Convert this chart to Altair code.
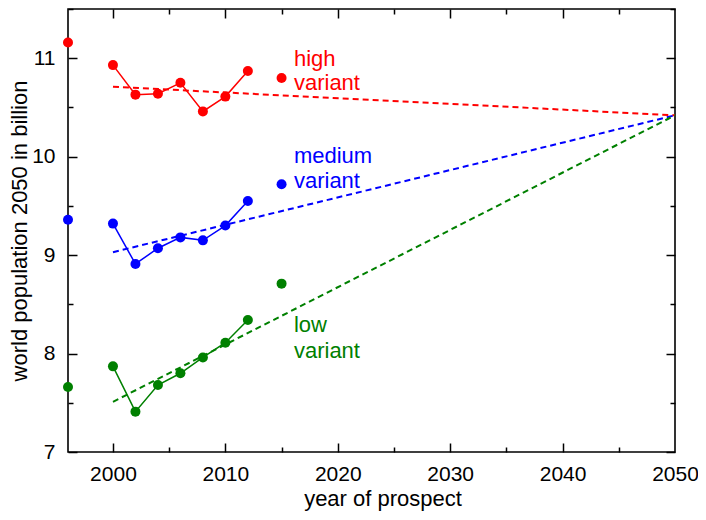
import altair as alt
import pandas as pd

# ---- data ----
years = [1996, 2000, 2002, 2004, 2006, 2008, 2010, 2012, 2015]
high = [11.16, 10.93, 10.63, 10.64, 10.75, 10.46, 10.61, 10.87, 10.80]
medium = [9.36, 9.32, 8.91, 9.07, 9.18, 9.15, 9.30, 9.55, 9.72]
low = [7.66, 7.87, 7.41, 7.68, 7.80, 7.96, 8.11, 8.34, 8.71]
connected_years = [2000, 2002, 2004, 2006, 2008, 2010, 2012]

trend_years = [2000, 2050]
trend_high = [10.71, 10.42]
trend_medium = [9.03, 10.42]
trend_low = [7.51, 10.42]

variants = ["high", "medium", "low"]
colors = ["#ff0000", "#0000ff", "#008000"]

label_lines = ["high", "variant", "medium", "variant", "low", "variant"]
label_variant = ["high", "high", "medium", "medium", "low", "low"]
label_year = [2016.1] * 6
label_value = [10.925, 10.674, 9.933, 9.68, 8.215, 7.95]

x_label_ticks = [2000, 2010, 2020, 2030, 2040, 2050]
x_major = [2000, 2010, 2020, 2030, 2040]
x_minor = [2005, 2015, 2025, 2035, 2045]
y_label_ticks = [7, 8, 9, 10, 11]
y_major = [7, 8, 9, 10, 11]
y_minor = [7.5, 8.5, 9.5, 10.5, 11.5]

# ---- tables ----
series = {"high": high, "medium": medium, "low": low}
trends = {"high": trend_high, "medium": trend_medium, "low": trend_low}
pts = pd.DataFrame(
    [{"year": y, "value": v, "variant": k} for k in variants for y, v in zip(years, series[k])]
)
conn = pts[pts["year"].isin(connected_years)]
trend = pd.DataFrame(
    [{"year": y, "value": v, "variant": k} for k in variants for y, v in zip(trend_years, trends[k])]
)
labels = pd.DataFrame(
    {"year": label_year, "value": label_value, "variant": label_variant, "line": label_lines}
)

FONT = "Liberation Sans"
W, H = 607, 443
xs = alt.Scale(domain=[1996, 2050], nice=False, zero=False)
ys = alt.Scale(domain=[7, 11.5], nice=False, zero=False)
cs = alt.Scale(domain=variants, range=colors)
color = alt.Color("variant:N", scale=cs, legend=None)

x_noaxis = alt.X("year:Q", scale=xs, axis=None)
y_noaxis = alt.Y("value:Q", scale=ys, axis=None)

trend_layer = alt.Chart(trend).mark_line(strokeDash=[6, 4], strokeWidth=2).encode(
    x=x_noaxis, y=y_noaxis, color=color, detail="variant:N"
)
line_layer = alt.Chart(conn).mark_line(strokeWidth=1.5).encode(
    x=x_noaxis, y=y_noaxis, color=color, detail="variant:N"
)
point_layer = alt.Chart(pts).mark_circle(size=100, opacity=1).encode(
    x=alt.X(
        "year:Q",
        scale=xs,
        axis=alt.Axis(
            orient="bottom", values=x_label_ticks, format="d", ticks=False, tickSize=0,
            labelPadding=11, labelFlush=False, labelFontSize=21, labelFont=FONT,
            labelColor="black", title="year of prospect", titleFontSize=22, titleFont=FONT,
            titleColor="black", titleFontWeight="normal", titlePadding=4, titleX=W / 2 + 11,
            domain=False, grid=False,
        ),
    ),
    y=alt.Y(
        "value:Q",
        scale=ys,
        axis=alt.Axis(
            orient="left", values=y_label_ticks, format="d", ticks=False, tickSize=0,
            labelPadding=13, labelFlush=False, labelFontSize=21, labelFont=FONT,
            labelColor="black", title="world population 2050 in billion", titleFontSize=22,
            titleFont=FONT, titleColor="black", titleFontWeight="normal", titlePadding=0,
            domain=False, grid=False,
        ),
    ),
    color=color,
)
text_layer = alt.Chart(labels).mark_text(
    align="left", baseline="alphabetic", fontSize=22, font=FONT
).encode(x=x_noaxis, y=y_noaxis, color=color, text="line:N")


def tick_axis(orient, offset, values, size):
    return alt.Axis(
        orient=orient, offset=offset, values=values, tickSize=size, tickWidth=1.5,
        tickColor="black", labels=False, domain=False, grid=False, title="",
    )


def xticks(orient, values, size):
    return alt.Chart(pts).mark_point(opacity=0).encode(
        x=alt.X("year:Q", scale=xs, axis=tick_axis(orient, -H, values, size)), y=y_noaxis
    )


def yticks(orient, values, size):
    return alt.Chart(pts).mark_point(opacity=0).encode(
        x=x_noaxis, y=alt.Y("value:Q", scale=ys, axis=tick_axis(orient, -W, values, size))
    )


tick_layers = [
    xticks("top", x_major, 9),      # ticks on bottom edge pointing inward
    xticks("top", x_minor, 5),
    xticks("bottom", x_major, 9),   # ticks on top edge pointing inward
    xticks("bottom", x_minor, 5),
    yticks("right", y_major, 9),    # ticks on left edge pointing inward
    yticks("right", y_minor, 5),
    yticks("left", y_major, 9),     # ticks on right edge pointing inward
    yticks("left", y_minor, 5),
]

chart = (
    alt.layer(trend_layer, line_layer, point_layer, text_layer, *tick_layers)
    .resolve_axis(x="independent", y="independent")
    .properties(
        width=W,
        height=H,
        padding={"left": 60, "top": 1, "right": 23, "bottom": 60},
        autosize=alt.AutoSizeParams(type="none"),
        background="white",
    )
    .configure_view(stroke="black", strokeWidth=1.6)
)

chart.save("out.html", embed_options={"renderer": "svg", "actions": False})
